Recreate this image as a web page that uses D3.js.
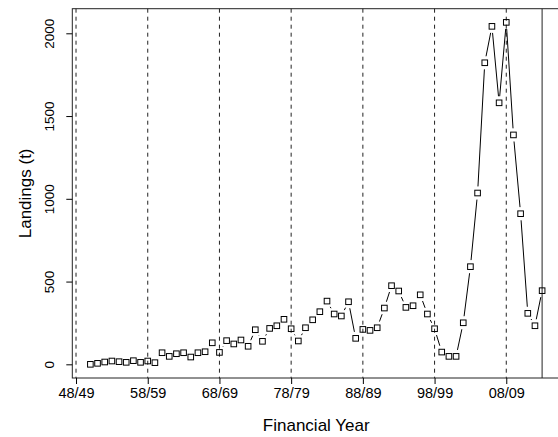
<!DOCTYPE html>
<html>
<head>
<meta charset="utf-8">
<script src="https://cdn.jsdelivr.net/npm/d3@7/dist/d3.min.js"></script>
<style>
  html, body { margin: 0; padding: 0; background: #fff; }
  svg { display: block; font-family: "Liberation Sans", Arial, Helvetica, sans-serif; }
</style>
</head>
<body>
<svg id="chart" width="558" height="437"></svg>
<script>
// Start year of each financial year (1950 = 50/51)
const years = d3.range(1950, 2014);
// Landings in tonnes per financial year
const landings = [
  0, 6, 14, 20, 16, 12, 22, 12, 20, 10,
  70, 48, 64, 70, 44, 70, 76, 130, 72, 143,
  123, 147, 109, 209, 139, 217, 233, 272, 215, 141,
  221, 269, 318, 382, 304, 292, 378, 157, 211, 205,
  221, 340, 475, 443, 344, 354, 420, 304, 215, 74,
  48, 48, 251, 590, 1035, 1822, 2042, 1580, 2066, 1386,
  910, 308, 233, 445
];
// Decade markers on the x axis
const decadeYears = [1948, 1958, 1968, 1978, 1988, 1998, 2008];
const decadeLabels = ["48/49", "58/59", "68/69", "78/79", "88/89", "98/99", "08/09"];
const yTicks = [0, 500, 1000, 1500, 2000];
const markerYear = 2013;

const plot = { left: 72.3, right: 560.2, top: 8.7, bottom: 378 };

// Axis ranges padded by 4% beyond the data, as in base R graphics
const xPad = (d3.max(years) - d3.min(years)) * 0.04;
const yPad = (d3.max(landings) - d3.min(landings)) * 0.04;
const x = d3.scaleLinear()
  .domain([d3.min(years) - xPad, d3.max(years) + xPad])
  .range([plot.left, plot.right]);
const y = d3.scaleLinear()
  .domain([d3.min(landings) - yPad, d3.max(landings) + yPad])
  .range([plot.bottom, plot.top]);

const svg = d3.select("#chart");

// Dashed guides at each decade
svg.append("g")
  .selectAll("line")
  .data(decadeYears)
  .join("line")
  .attr("x1", d => x(d)).attr("x2", d => x(d))
  .attr("y1", plot.top).attr("y2", plot.bottom)
  .attr("stroke", "#222")
  .attr("stroke-width", 1)
  .attr("stroke-dasharray", "4,4");

// Solid marker line
svg.append("line")
  .attr("x1", x(markerYear)).attr("x2", x(markerYear))
  .attr("y1", plot.top).attr("y2", plot.bottom)
  .attr("stroke", "#555")
  .attr("stroke-width", 1.3);

// Plot frame
svg.append("rect")
  .attr("x", plot.left).attr("y", plot.top)
  .attr("width", plot.right - plot.left)
  .attr("height", plot.bottom - plot.top)
  .attr("fill", "none")
  .attr("stroke", "#222")
  .attr("stroke-width", 1);

// Connecting segments with gaps around each marker
const pts = years.map((yr, i) => [x(yr), y(landings[i])]);
const gap = 6.6;
const segs = [];
for (let i = 0; i < pts.length - 1; i++) {
  const [x0, y0] = pts[i], [x1, y1] = pts[i + 1];
  const dx = x1 - x0, dy = y1 - y0;
  const len = Math.hypot(dx, dy);
  if (len <= 2 * gap) continue;
  const ux = dx / len, uy = dy / len;
  segs.push([x0 + ux * gap, y0 + uy * gap, x1 - ux * gap, y1 - uy * gap]);
}
svg.append("g")
  .selectAll("line")
  .data(segs)
  .join("line")
  .attr("x1", d => d[0]).attr("y1", d => d[1])
  .attr("x2", d => d[2]).attr("y2", d => d[3])
  .attr("stroke", "#000")
  .attr("stroke-width", 1);

// Open square markers
const sq = 5.6;
svg.append("g")
  .selectAll("rect")
  .data(years)
  .join("rect")
  .attr("x", (d, i) => x(d) - sq / 2)
  .attr("y", (d, i) => y(landings[i]) - sq / 2)
  .attr("width", sq).attr("height", sq)
  .attr("fill", "none")
  .attr("stroke", "#000")
  .attr("stroke-width", 1);

// X axis
const xAxis = svg.append("g")
  .attr("transform", `translate(0,${plot.bottom})`)
  .call(d3.axisBottom(x)
    .tickValues(decadeYears)
    .tickFormat((d, i) => decadeLabels[i])
    .tickSize(6)
    .tickPadding(4));
xAxis.select(".domain").remove();
xAxis.selectAll(".tick line").attr("stroke", "#000");
xAxis.selectAll(".tick text")
  .attr("font-size", 14.5)
  .attr("font-family", "Liberation Sans, Arial, sans-serif")
  .attr("fill", "#000");

// Y axis
const yAxis = svg.append("g")
  .attr("transform", `translate(${plot.left},0)`)
  .call(d3.axisLeft(y)
    .tickValues(yTicks)
    .tickSize(6)
    .tickFormat(d3.format("d")));
yAxis.select(".domain").remove();
yAxis.selectAll(".tick line").attr("stroke", "#000");
yAxis.selectAll(".tick text")
  .attr("font-size", 13.5)
  .attr("font-family", "Liberation Sans, Arial, sans-serif")
  .attr("fill", "#000")
  .attr("text-anchor", "middle")
  .attr("x", 0).attr("dy", 0)
  .attr("transform", "translate(-18,0) rotate(-90)");

// Axis titles
svg.append("text")
  .attr("x", (plot.left + plot.right) / 2)
  .attr("y", 431)
  .attr("text-anchor", "middle")
  .attr("font-size", 17)
  .text("Financial Year");

svg.append("text")
  .attr("transform", `translate(31,${(plot.top + plot.bottom) / 2}) rotate(-90)`)
  .attr("text-anchor", "middle")
  .attr("font-size", 17)
  .text("Landings (t)");
</script>
</body>
</html>
